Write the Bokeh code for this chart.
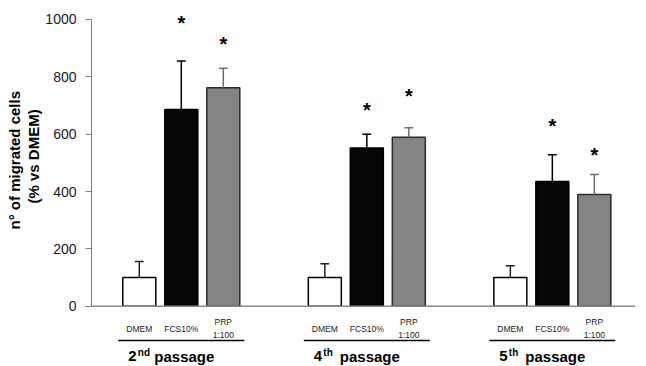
import math
from bokeh.plotting import figure
from bokeh.models import Range1d, FixedTicker, Span, Title, ColumnDataSource
from bokeh.core.properties import value
from bokeh.embed import file_html
from bokeh.resources import INLINE

# ---- data ----
passages = ["2", "4", "5"]
passage_suffix = ["nd", "th", "th"]
treatments = ["DMEM", "FCS10%", "PRP\n1:100"]
dmem_mean = [100, 100, 100]
dmem_err = [56, 48, 41]
fcs_mean = [686, 552, 435]
fcs_err = [169, 48, 93]
prp_mean = [762, 589, 390]
prp_err = [68, 33, 69]
star_fcs = [1000, 700, 642]
star_prp = [930, 746, 540]
y_ticks = [0, 200, 400, 600, 800, 1000]
y_title = ["n° of migrated cells", "(% vs DMEM)"]

# ---- layout params ----
GROUP_STEP = 4.417
BAR_W = 0.786
CAP_W = 0.21
FONT = "Liberation Sans"
fills = ["#ffffff", "#060606", "#838383"]
outlines = ["#000000", "#000000", "#2b2b2b"]
err_cols = ["#222222", "#000000", "#6e6e6e"]

means = [dmem_mean, fcs_mean, prp_mean]
errs = [dmem_err, fcs_err, prp_err]

xs, tops, tips, fc, lc, ec, labs = [], [], [], [], [], [], []
for g in range(len(passages)):
    for t in range(len(treatments)):
        xs.append(g * GROUP_STEP + t)
        tops.append(means[t][g])
        tips.append(means[t][g] + errs[t][g])
        fc.append(fills[t]); lc.append(outlines[t]); ec.append(err_cols[t])
        labs.append(treatments[t])

src = ColumnDataSource(dict(x=xs, top=tops, tip=tips, fill=fc, line=lc, ecol=ec,
                            x0=[x - CAP_W / 2 for x in xs], x1=[x + CAP_W / 2 for x in xs],
                            lab=labs))

p = figure(width=646, height=366,
           x_range=Range1d(-1.138, 11.814), y_range=Range1d(-210.3, 1024.4),
           output_backend="svg", toolbar_location=None, x_axis_location=None,
           min_border_left=91, min_border_right=11, min_border_top=12, min_border_bottom=0)
p.outline_line_color = None
p.grid.visible = False
p.background_fill_color = "white"

ax = p.yaxis[0]
ax.ticker = FixedTicker(ticks=y_ticks)
ax.bounds = (0, 1000)
ax.axis_line_color = "#808080"
ax.major_tick_line_color = "#808080"
ax.major_tick_out = 6
ax.major_tick_in = 0
ax.minor_tick_out = 0
ax.minor_tick_in = 0
ax.major_label_standoff = 9
ax.major_label_text_font = FONT
ax.major_label_text_font_size = "14px"
ax.major_label_text_color = "#1a1a1a"

p.add_layout(Span(location=0, dimension="width", line_color="#8a8a8a", line_width=1.5))

p.vbar(x="x", top="top", bottom=0, width=BAR_W, fill_color="fill", line_color="line",
       line_width=1.5, source=src)
p.segment(x0="x", y0="top", x1="x", y1="tip", line_color="ecol", line_width=1.5, source=src)
p.segment(x0="x0", y0="tip", x1="x1", y1="tip", line_color="ecol", line_width=1.5, source=src)

# significance stars
sx = [g * GROUP_STEP + 1 for g in range(3)] + [g * GROUP_STEP + 2 for g in range(3)]
sy = star_fcs + star_prp
p.text(x=sx, y=sy, text=["*"] * len(sx), text_font=value(FONT), text_font_style="bold",
       text_font_size="20px", text_align="center", text_baseline="middle", y_offset=4,
       text_color="#000000")

# category labels
p.text(x="x", y=-78, text="lab", source=src, text_font=value(FONT), text_font_size="8.5px",
       text_align="center", text_baseline="middle", text_line_height=1.25, text_color="#1a1a1a")

# separator lines
gx0 = [g * GROUP_STEP - 0.5 for g in range(3)]
gx1 = [g * GROUP_STEP + 2.5 for g in range(3)]
p.segment(x0=gx0, y0=-119.6, x1=gx1, y1=-119.6, line_color="#000000", line_width=1.5)

# group labels
gc = [g * GROUP_STEP + 1 for g in range(3)]
p.text(x=gc, y=-174.4, text=passages, x_offset=-53, text_font=value(FONT), text_font_style="bold",
       text_font_size="15px", text_align="left", text_baseline="alphabetic", text_color="#000000")
p.text(x=gc, y=-160.5, text=passage_suffix, x_offset=-43.5, text_font=value(FONT),
       text_font_style="bold", text_font_size="10px", text_align="left",
       text_baseline="alphabetic", text_color="#000000")
p.text(x=gc, y=-174.4, text=["passage"] * 3, x_offset=-27, text_font=value(FONT),
       text_font_style="bold", text_font_size="15px", text_align="left",
       text_baseline="alphabetic", text_color="#000000")

# y axis title (two lines, as side titles)
for t, off in [(y_title[1], 163), (y_title[0], 137)]:
    p.add_layout(Title(text=t, align="left", offset=off, standoff=0, vertical_align="middle",
                       text_font=FONT, text_font_style="bold", text_font_size="15px",
                       text_color="#000000"), "left")

open("out.html", "w").write(file_html(p, INLINE))
